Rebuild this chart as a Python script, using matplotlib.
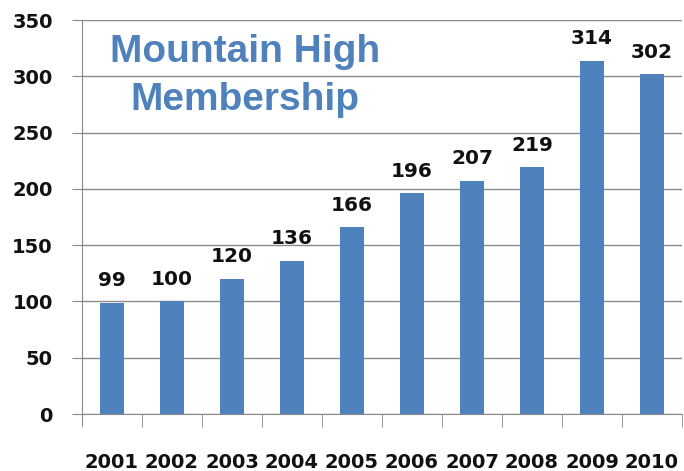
import matplotlib
matplotlib.use("Agg")
import matplotlib.pyplot as plt
from matplotlib.ticker import MultipleLocator

years = ["2001", "2002", "2003", "2004", "2005", "2006", "2007", "2008", "2009", "2010"]
members = [99, 100, 120, 136, 166, 196, 207, 219, 314, 302]

BLUE = "#4F81BD"
GRID = "#8a8a8a"

plt.rcParams["font.family"] = ["DejaVu Sans"]

fig = plt.figure(figsize=(6.84, 4.71), dpi=100)
ax = fig.add_axes([82 / 684, 1 - 414 / 471, 600 / 684, 394 / 471])

x = list(range(len(years)))
bars = ax.bar(x, members, width=0.4, color=BLUE, zorder=3)
for xi, v in zip(x, members):
    ax.annotate(str(v), (xi, v), xytext=(0, 9), textcoords="offset points",
                ha="center", va="bottom", fontsize=14.5, fontweight="bold", color="#111111")

ax.set_xlim(-0.5, 9.5)
ax.set_ylim(0, 350)
ax.yaxis.set_major_locator(MultipleLocator(50))
ax.grid(axis="y", color=GRID, lw=1, zorder=0)
ax.set_axisbelow(True)

for s in ["top", "right"]:
    ax.spines[s].set_visible(False)
for s in ["left", "bottom"]:
    ax.spines[s].set_color(GRID)
ax.spines["left"].set_bounds(-9, 350)

ax.set_xticks(x)
ax.set_xticklabels(years, fontsize=14, fontweight="bold", color="#111111")
ax.set_xticks([i - 0.5 for i in range(len(years) + 1)], minor=True)
ax.tick_params(axis="x", which="major", length=0, pad=28)
ax.tick_params(axis="x", which="minor", length=9, color=GRID, direction="out")
ax.tick_params(axis="y", length=7, color=GRID, pad=14)
for lbl in ax.get_yticklabels():
    lbl.set_fontsize(14)
    lbl.set_fontweight("bold")
    lbl.set_color("#111111")

fig.text(245 / 684, 1 - 76 / 471, "Mountain High\nMembership", ha="center", va="center",
         fontsize=28, fontweight="bold", color=BLUE, family=["Liberation Sans", "DejaVu Sans"],
         linespacing=1.4)

fig.savefig("out.png", dpi=100)
